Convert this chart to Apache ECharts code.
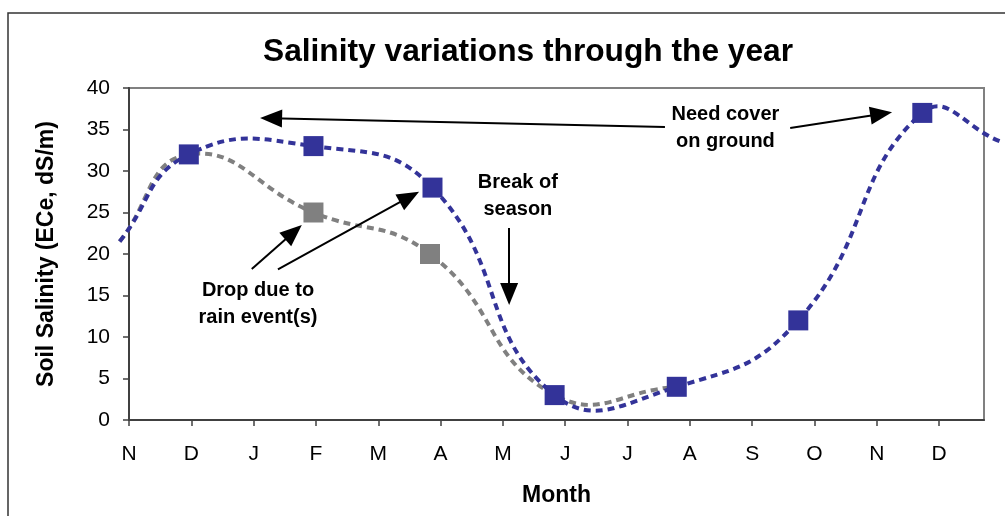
<!DOCTYPE html>
<html lang="en">
<head>
    <meta charset="utf-8">
    <title>Salinity variations through the year</title>
    <script src="https://cdn.jsdelivr.net/npm/echarts@6/dist/echarts.min.js"></script>
    <style type="text/css">
        html, body {margin: 0; padding: 0; background: #fff;}
        #chart {width: 1005px; height: 516px;}
    </style>
</head>
<body>
    <div id="chart"></div>
    <script>
        // month ticks on the x axis (N of previous year .. D)
        var monthLabels = ['N', 'D', 'J', 'F', 'M', 'A', 'M', 'J', 'J', 'A', 'S', 'O', 'N', 'D'];

        // blue series: x in months from first N, y in dS/m
        var blueX = [-0.15, 0.96, 2.96, 4.87, 6.83, 8.79, 10.74, 12.73, 14.0];
        var blueY = [21.5, 32, 33, 28, 3, 4, 12, 37, 33.5];
        var blueMark = [false, true, true, true, true, true, true, true, false];

        // grey series (with rain events)
        var greyX = [-0.15, 0.96, 2.96, 4.83, 6.83, 8.79];
        var greyY = [21.5, 32, 25, 20, 3, 4];
        var greyMark = [false, false, true, true, false, false];

        // annotation arrows [x1, y1, x2, y2] in data units
        var arrows = [
            [10.61, 35.18, 12.07, 36.87],
            [8.60, 35.30, 2.28, 36.36],
            [1.97, 18.19, 2.64, 22.61],
            [2.39, 18.16, 4.50, 26.87],
            [6.10, 23.13, 6.10, 15.18]
        ];
        // annotation notes [x, y, text]
        var notes = [
            [9.57, 35.2, 'Need cover\non ground'],
            [6.24, 27.0, 'Break of\nseason'],
            [2.07, 14.0, 'Drop due to\nrain event(s)']
        ];

        var font = 'Arial, "Liberation Sans", sans-serif';
        var blue = '#333399', grey = '#808080';

        function pairs(xs, ys) {
            return xs.map(function (x, i) { return [x, ys[i]]; });
        }
        function marked(xs, ys, marks) {
            return pairs(xs, ys).filter(function (p, i) { return marks[i]; });
        }

        // smoothed (excel-like) curve through the points, in pixel space
        function curvePath(pts, s) {
            function dist(a, b) { return Math.sqrt((a[0] - b[0]) * (a[0] - b[0]) + (a[1] - b[1]) * (a[1] - b[1])); }
            var d = 'M' + pts[0][0] + ' ' + pts[0][1];
            for (var i = 0; i < pts.length - 1; i++) {
                var p0 = pts[i - 1] || pts[i], p1 = pts[i], p2 = pts[i + 1], p3 = pts[i + 2] || pts[i + 1];
                var d01 = dist(p0, p1), d12 = dist(p1, p2), d23 = dist(p2, p3);
                var r1 = d12 / (d01 + d12), r2 = d12 / (d12 + d23);
                var c1 = [p1[0] + (p2[0] - p0[0]) * s * r1, p1[1] + (p2[1] - p0[1]) * s * r1];
                var c2 = [p2[0] - (p3[0] - p1[0]) * s * r2, p2[1] - (p3[1] - p1[1]) * s * r2];
                d += ' C' + c1[0] + ' ' + c1[1] + ' ' + c2[0] + ' ' + c2[1] + ' ' + p2[0] + ' ' + p2[1];
            }
            return d;
        }

        function curveSeries(name, xs, ys, color) {
            return {
                name: name, type: 'custom', clip: false, silent: true,
                data: pairs(xs, ys),
                renderItem: function (params, api) {
                    if (params.dataIndex !== 0) return null;
                    var pts = xs.map(function (x, i) { return api.coord([x, ys[i]]); });
                    return {
                        type: 'path',
                        shape: {pathData: curvePath(pts, 0.47)},
                        style: {fill: 'none', stroke: color, lineWidth: 4, lineDash: [7, 5]}
                    };
                }
            };
        }

        var chart = echarts.init(document.getElementById('chart'));
        chart.setOption({
            animation: false,
            backgroundColor: '#fff',
            textStyle: {fontFamily: font},
            title: {
                text: 'Salinity variations through the year',
                left: 263, top: 36, padding: 0,
                textStyle: {fontSize: 31.7, fontWeight: 'bold', color: '#000', fontFamily: font}
            },
            graphic: [{
                type: 'rect', silent: true, z: -1,
                shape: {x: 8, y: 13, width: 1200, height: 700},
                style: {fill: 'none', stroke: '#333', lineWidth: 1.5}
            }],
            grid: {
                left: 129, right: 21, top: 88, bottom: 96,
                show: true, borderColor: '#808080', borderWidth: 2
            },
            xAxis: {
                type: 'value', min: 0, max: 13.72,
                name: 'Month', nameLocation: 'middle', nameGap: 64,
                nameTextStyle: {fontSize: 23, fontWeight: 'bold', color: '#000', fontFamily: font},
                axisLine: {lineStyle: {color: '#404040', width: 2}},
                axisTick: {
                    customValues: monthLabels.map(function (m, i) { return i; }),
                    length: 6, lineStyle: {color: '#404040', width: 1.5}
                },
                axisLabel: {
                    customValues: monthLabels.map(function (m, i) { return i; }),
                    formatter: function (v) { return monthLabels[Math.round(v)]; },
                    fontSize: 21, color: '#000', margin: 24, fontFamily: font
                },
                splitLine: {show: false}
            },
            yAxis: {
                type: 'value', min: 0, max: 40, interval: 5,
                name: 'Soil Salinity (ECe, dS/m)', nameLocation: 'middle', nameGap: 71,
                nameTextStyle: {fontSize: 23, fontWeight: 'bold', color: '#000', fontFamily: font},
                axisLine: {show: true, lineStyle: {color: '#404040', width: 2}},
                axisTick: {show: true, length: 6, lineStyle: {color: '#404040', width: 1.5}},
                axisLabel: {fontSize: 21, color: '#000', margin: 19, fontFamily: font},
                splitLine: {show: false}
            },
            series: [
                curveSeries('rain line', greyX, greyY, grey),
                {
                    name: 'rain', type: 'scatter', clip: false,
                    symbol: 'rect', symbolSize: 20,
                    data: marked(greyX, greyY, greyMark),
                    itemStyle: {color: grey, opacity: 1}
                },
                curveSeries('salinity line', blueX, blueY, blue),
                {
                    name: 'salinity', type: 'scatter', clip: false,
                    symbol: 'rect', symbolSize: 20,
                    data: marked(blueX, blueY, blueMark),
                    itemStyle: {color: blue, opacity: 1},
                    markLine: {
                        silent: true, animation: false,
                        symbol: ['none', 'triangle'], symbolSize: [18, 22],
                        lineStyle: {color: '#000', width: 2, type: 'solid'},
                        itemStyle: {color: '#000'},
                        label: {show: false},
                        emphasis: {disabled: true},
                        data: arrows.map(function (a) {
                            return [{coord: [a[0], a[1]]}, {coord: [a[2], a[3]]}];
                        })
                    },
                    markPoint: {
                        silent: true, animation: false,
                        symbol: 'rect', symbolSize: 1,
                        itemStyle: {color: 'rgba(0,0,0,0)'},
                        label: {
                            show: true, position: 'inside', align: 'center',
                            fontSize: 20, fontWeight: 'bold', lineHeight: 27,
                            color: '#000', fontFamily: font,
                            formatter: function (p) { return p.name; }
                        },
                        data: notes.map(function (n) {
                            return {name: n[2], coord: [n[0], n[1]]};
                        })
                    }
                }
            ]
        });
    </script>
</body>
</html>
